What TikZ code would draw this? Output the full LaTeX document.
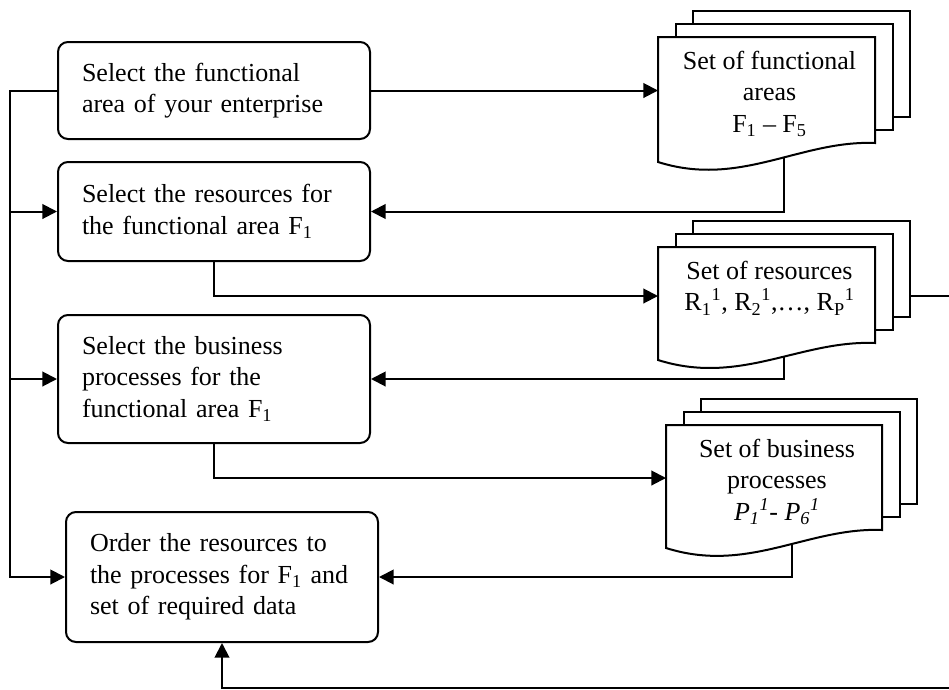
\documentclass[tikz,border=0pt]{standalone}
\usepackage{fontspec}
\setmainfont{Liberation Serif}
\usetikzlibrary{arrows.meta,fit,calc}

\tikzset{
  txt/.style={font=\fontsize{19.5}{23.5}\selectfont},
  stepbox/.style={txt, draw, line width=1.5pt, rounded corners=7.5pt,
    align=left, text width=198pt, inner xsep=18pt, inner ysep=0pt},
  page/.style={draw, fill=white, line width=1.5pt, line join=miter},
  doctext/.style={txt, align=center, inner sep=0pt, anchor=north},
  wire/.style={line width=1.5pt},
  flow/.style={wire, -{Triangle[length=11pt,width=11pt]}},
}

% #1 name, #2 left x, #3 right x, #4 top y, #5 lower right y,
% #6 lower left y, #7 y of the incoming arrow
\newcommand\docnode[7]{%
  \coordinate (#1-nw) at (#2,#4);
  \coordinate (#1-se) at (#3,#5);
  \coordinate (#1-sw) at (#2,#6);
  \coordinate (#1-in) at (#2,#7);
  \coordinate (#1-out) at (#2+126,#5);
  \node[fit=(#1-nw)(#1-se), inner sep=0pt] (#1) {};
}
% stack of three pages, the front one with a wavy lower edge
\newcommand\docpages[1]{%
  \draw[page] ([shift={(35,-26)}]#1-nw) rectangle ([shift={(35,-26)}]#1-se);
  \draw[page] ([shift={(17.5,-13)}]#1-nw) rectangle ([shift={(17.5,-13)}]#1-se);
  \draw[page] (#1-nw) -| (#1-se)
    .. controls ($(#1-sw |- #1-se)+(142,-3)$) and ($(#1-sw)+(82,26)$) .. (#1-sw) -- cycle;
}

\begin{document}
\begin{tikzpicture}[x=0.75pt,y=-0.75pt]
\useasboundingbox (0,0) rectangle (949,689);
\clip (0,0) rectangle (949,689);

% process steps
\node[stepbox, minimum height=72.75pt] (b1) at (214,90.5)
  {Select the functional\\area of your enterprise};
\node[stepbox, minimum height=74.25pt] (b2) at (214,211.5)
  {Select the resources for\\the functional area F\textsubscript{1}};
\node[stepbox, minimum height=96pt] (b3) at (214,379)
  {Select the business\\processes for the\\functional area F\textsubscript{1}};
\node[stepbox, minimum height=97.5pt] (b4) at (222,577)
  {Order the resources to\\\mbox{the processes for F\textsubscript{1} and}\\set of required data};

% document frames
\docnode{d1}{658}{875}{37}{143}{162}{90.5}
\docnode{d2}{658}{875}{247}{343}{360}{296}
\docnode{d3}{666}{882}{425}{530}{548}{478}

% routing helpers
\coordinate (bus) at (10,0);
\coordinate (loopR) at (960,0);
\coordinate (loopB) at (0,687.5);

% connectors
\draw[flow] (b1.east) -- (d1-in);
\draw[flow] (b1.west) -| (bus |- b4.west) -- (b4.west);
\draw[flow] (b2.west -| bus) -- (b2.west);
\draw[flow] (b3.west -| bus) -- (b3.west);
\draw[flow] (d1-out) |- (b2.east);
\draw[flow] (b2.south) |- (d2-in);
\draw[flow] (d2-out) |- (b3.east);
\draw[flow] (b3.south) |- (d3-in);
\draw[flow] (d3-out) |- (b4.east);
\draw[flow] (d2-in) -- (d2-in -| loopR) |- (loopB -| b4.south) -- (b4.south);

% documents
\docpages{d1}
\docpages{d2}
\docpages{d3}

\node[doctext] (d1-t) at (769.5,51)
  {Set of functional\\areas\\F\textsubscript{1} – F\textsubscript{5}};
\node[doctext] (d2-t) at (769.5,261)
  {Set of resources\\R\textsubscript{1}\textsuperscript{1}, R\textsubscript{2}\textsuperscript{1},…, R\textsubscript{P}\textsuperscript{1}};
\node[doctext] (d3-t) at (777,439)
  {Set of business\\processes\\\textit{P\textsubscript{1}\textsuperscript{1}}- \textit{P\textsubscript{6}\textsuperscript{1}}};
\end{tikzpicture}
\end{document}
